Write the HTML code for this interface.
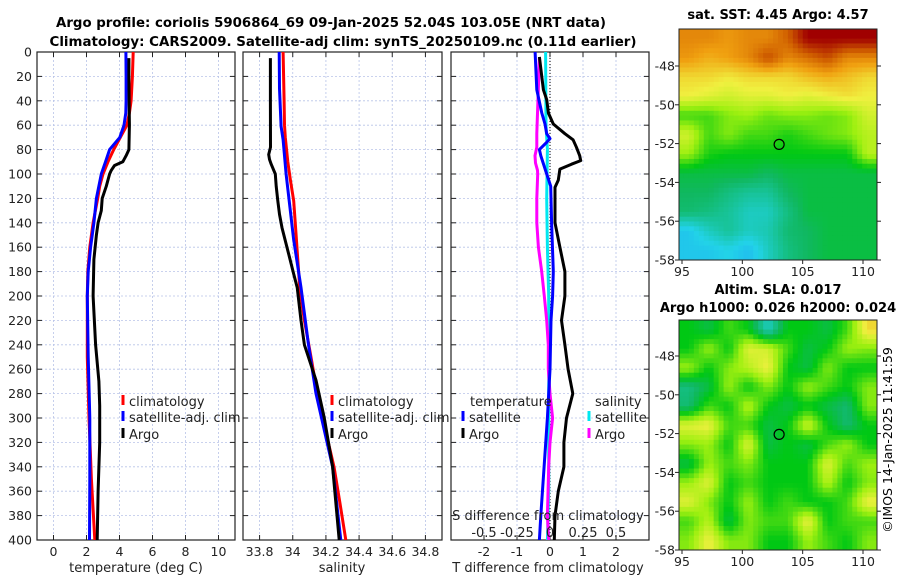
<!DOCTYPE html>
<html><head><meta charset="utf-8"><style>
html,body{margin:0;padding:0;background:#fff;}
svg{display:block;font-family:"DejaVu Sans","Liberation Sans",sans-serif;}
</style></head><body>
<svg id="fig" width="900" height="580" viewBox="0 0 900 580" xmlns="http://www.w3.org/2000/svg">
<defs>
<clipPath id="c1"><rect x="37" y="52" width="198" height="488"/></clipPath>
<clipPath id="c2"><rect x="243" y="52" width="199" height="488"/></clipPath>
<clipPath id="c3"><rect x="451" y="52" width="198" height="488"/></clipPath>
<clipPath id="cm1"><rect x="679" y="29" width="198" height="231"/></clipPath>
<clipPath id="cm2"><rect x="679" y="320" width="198" height="230"/></clipPath>
</defs>
<text x="331" y="27" text-anchor="middle" font-weight="bold" font-size="13" textLength="550" lengthAdjust="spacingAndGlyphs">Argo profile: coriolis 5906864_69 09-Jan-2025 52.04S 103.05E (NRT data)</text>
<text x="343" y="46" text-anchor="middle" font-weight="bold" font-size="13" textLength="587" lengthAdjust="spacingAndGlyphs">Climatology: CARS2009. Satellite-adj clim: synTS_20250109.nc (0.11d earlier)</text>
<g id="root"></g>
<text x="778" y="19" text-anchor="middle" font-weight="bold" font-size="13">sat. SST: 4.45 Argo: 4.57</text>
<text x="778" y="294" text-anchor="middle" font-weight="bold" font-size="13">Altim. SLA: 0.017</text>
<text x="778" y="312" text-anchor="middle" font-weight="bold" font-size="13">Argo h1000: 0.026 h2000: 0.024</text>
<text transform="translate(892,440) rotate(-90)" text-anchor="middle" font-size="12.5">©IMOS 14-Jan-2025 11:41:59</text>
</svg>
<script>
// ---- data ----
const depthTicks=[0,20,40,60,80,100,120,140,160,180,200,220,240,260,280,300,320,340,360,380,400];
const tempTicks=[0,2,4,6,8,10];
const salTicks=[33.8,34,34.2,34.4,34.6,34.8];
const salTickLabels=["33.8","34","34.2","34.4","34.6","34.8"];
const tdiffTicks=[-2,-1,0,1,2];
const sdiffTicks=[-0.5,-0.25,0,0.25,0.5];
const sdiffTickLabels=["-0.5","-0.25","0","0.25","0.5"];

const climTDepth=[0,20,40,50,60,70,80,90,100,110,120,140,160,180,200,250,300,350,400];
const climT=[4.83,4.78,4.7,4.6,4.45,4.05,3.65,3.3,3.0,2.8,2.68,2.4,2.2,2.08,2.05,2.05,2.15,2.3,2.5];
const satTDepth=[0,20,40,50,60,70,80,90,100,120,140,160,180,200,250,300,350,400];
const satT=[4.39,4.4,4.4,4.38,4.27,4.02,3.4,3.15,2.9,2.6,2.45,2.25,2.1,2.05,2.1,2.2,2.2,2.18];
const argoTDepth=[5,20,40,60,80,85,90,93,97,100,110,120,130,140,150,170,200,240,270,290,320,360,400];
const argoT=[4.57,4.57,4.58,4.6,4.57,4.4,4.2,3.7,3.5,3.4,3.2,2.95,2.9,2.7,2.6,2.45,2.4,2.55,2.75,2.8,2.8,2.7,2.65];

const climSDepth=[0,20,40,60,70,90,105,122,150,193,220,250,280,300,340,370,400];
const climS=[33.942,33.945,33.948,33.95,33.955,33.97,33.986,34.006,34.02,34.042,34.07,34.11,34.148,34.18,34.249,34.285,34.32];
const satSDepth=[0,30,61,72,100,154,193,240,280,340,400];
const satS=[33.918,33.92,33.93,33.942,33.96,34.006,34.05,34.095,34.14,34.24,34.29];
const argoSDepth=[5,40,78,84,88,92,100,110,122,133,144,166,182,193,220,240,269,300,340,370,400];
const argoS=[33.865,33.865,33.866,33.855,33.86,33.87,33.895,33.9,33.91,33.92,33.935,33.976,34.006,34.027,34.05,34.07,34.14,34.19,34.24,34.26,34.28];

const dTArgoDepth=[4,31,39,50,59,67,72,78,85,89,92,96,105,111,130,140,160,180,200,220,240,260,280,300,320,340,360,380,400];
const dTArgo=[-0.32,-0.2,-0.1,-0.05,0.1,0.45,0.7,0.8,0.9,0.93,0.65,0.3,0.25,0.15,0.15,0.15,0.3,0.45,0.45,0.35,0.45,0.55,0.69,0.5,0.42,0.42,0.25,0.15,0.13];
const dTSatDepth=[0,31,50,59,67,71,74,80,85,100,110,140,180,200,220,260,300,340,380,400];
const dTSat=[-0.45,-0.4,-0.25,-0.15,-0.1,0,-0.1,-0.32,-0.28,-0.1,0.02,0.05,0.1,0.08,0.03,0,-0.08,-0.18,-0.28,-0.32];
const dSArgoDepth=[5,36,67,78,85,91,97,100,120,140,160,180,200,220,240,260,280,300,320,340,380,400];
const dSArgo=[-0.08,-0.09,-0.1,-0.1,-0.114,-0.11,-0.095,-0.093,-0.1,-0.1,-0.088,-0.063,-0.043,-0.025,-0.013,-0.013,0,0.02,0,-0.01,-0.02,-0.01];
const dSSatDepth=[0,60,80,120,160,200,260,300,360,400];
const dSSat=[-0.033,-0.03,-0.02,-0.025,-0.02,-0.01,-0.01,-0.01,-0.01,-0.02];

const lonTicks=[95,100,105,110];
const latTicks=[-48,-50,-52,-54,-56,-58];
const argoLon=103.05, argoLat=-52.04;
const sstGrid=[
[.85,.85,.83,.85,.85,.9,1,1,1,1],
[.83,.8,.82,.85,.92,.85,.88,.92,.85,.85],
[.75,.75,.73,.75,.75,.75,.78,.8,.78,.75],
[.72,.7,.68,.7,.7,.72,.7,.72,.74,.72],
[.55,.55,.6,.62,.58,.6,.6,.58,.6,.68],
[.68,.55,.6,.55,.55,.52,.55,.58,.6,.65],
[.62,.52,.5,.5,.5,.5,.5,.5,.5,.65],
[.45,.45,.45,.45,.42,.45,.45,.45,.45,.45],
[.42,.42,.38,.35,.35,.42,.45,.45,.45,.45],
[.4,.38,.35,.3,.3,.38,.45,.45,.45,.45],
[.22,.3,.35,.3,.32,.4,.42,.45,.45,.45],
[.22,.22,.25,.2,.3,.38,.42,.45,.45,.45]];
const slaGrid=[
[.5,.45,.55,.5,.3,.5,.5,.45,.55,.75],
[.5,.62,.5,.7,.68,.55,.45,.5,.62,.6],
[.62,.5,.6,.65,.72,.5,.45,.6,.5,.5],
[.38,.45,.62,.5,.6,.5,.62,.55,.5,.6],
[.4,.55,.5,.65,.5,.45,.5,.45,.4,.6],
[.7,.72,.55,.55,.45,.5,.68,.5,.4,.5],
[.6,.62,.5,.7,.45,.5,.45,.55,.62,.5],
[.45,.62,.55,.6,.5,.5,.5,.7,.55,.62],
[.62,.7,.5,.55,.5,.5,.5,.65,.5,.6],
[.7,.6,.5,.62,.5,.55,.5,.5,.55,.72],
[.55,.65,.45,.6,.55,.55,.72,.5,.55,.55],
[.6,.72,.6,.6,.5,.5,.62,.55,.5,.6]];

// ---- helpers ----
const NS="http://www.w3.org/2000/svg";
const root=document.getElementById('root');
function mk(tag,attrs,parent){const e=document.createElementNS(NS,tag);for(const k in attrs)e.setAttribute(k,attrs[k]);(parent||root).appendChild(e);return e;}
const Y0=52,Y1=540;
const yD=d=>Y0+d*(Y1-Y0)/400;
function lin(d0,d1,r0,r1){return v=>r0+(v-d0)*(r1-r0)/(d1-d0);}
const panels=[
 {x0:37,x1:235,xs:lin(-1,11,37,235),clip:'c1',name:'temperature'},
 {x0:243,x1:442,xs:lin(33.7,34.9,243,442),clip:'c2',name:'salinity'},
 {x0:451,x1:649,xs:lin(-3,3,451,649),clip:'c3',name:'difference'}];
const sx3=lin(-0.75,0.75,451,649);

function frame(p,i,xt,xl){
  const g=mk('g',{});
  
  
  mk('rect',{x:p.x0,y:Y0,width:p.x1-p.x0,height:Y1-Y0,fill:'#fff'},g);
  xt.forEach(v=>{const x=p.xs(v);mk('line',{x1:x,x2:x,y1:Y0,y2:Y1,stroke:'#b8c4e8','stroke-width':0.8,'stroke-dasharray':'2,2'},g);});
  depthTicks.forEach(d=>{const y=yD(d);mk('line',{x1:p.x0,x2:p.x1,y1:y,y2:y,stroke:'#b8c4e8','stroke-width':0.8,'stroke-dasharray':'2,2'},g);
    mk('line',{x1:p.x0,x2:p.x0+5,y1:y,y2:y,stroke:'#222'},g);mk('line',{x1:p.x1-5,x2:p.x1,y1:y,y2:y,stroke:'#222'},g);
    if(i===0){const t=mk('text',{x:32,y:y+4.5,'text-anchor':'end','font-size':12.5,fill:'#222'},g);t.textContent=d;}});
  xt.forEach((v,k)=>{const x=p.xs(v);mk('line',{x1:x,x2:x,y1:Y0,y2:Y0+5,stroke:'#222'},g);mk('line',{x1:x,x2:x,y1:Y1-5,y2:Y1,stroke:'#222'},g);
    const t=mk('text',{x:x,y:556,'text-anchor':'middle','font-size':12.5,fill:'#222'},g);t.textContent=xl[k];});
  mk('rect',{x:p.x0,y:Y0,width:p.x1-p.x0,height:Y1-Y0,fill:'none',stroke:'#222','stroke-width':1.2},g);
  return g;
}
function series(p,xs,dep,vals,color,name,w){
  const pts=dep.map((d,k)=>xs(vals[k]).toFixed(1)+','+yD(d).toFixed(1)).join(' ');
  const e=mk('polyline',{points:pts,fill:'none',stroke:color,'stroke-width':w||3,'stroke-linejoin':'round','clip-path':'url(#'+p.clip+')'});
  
  
}
function legend(x,y,color,label,name){
  const g=mk('g',{});
  
  
  mk('line',{x1:x,x2:x,y1:y-11,y2:y-1,stroke:color,'stroke-width':3},g);
  const t=mk('text',{x:x+6,y:y,'font-size':13,fill:'#222'},g);t.textContent=label;
}
function txt(x,y,s,name,anchor,size){const t=mk('text',{x:x,y:y,'text-anchor':anchor||'middle','font-size':size||13,fill:'#222'});t.textContent=s;
  
  }

// panel 1
let P=panels[0];
frame(P,0,tempTicks,tempTicks.map(String));
series(P,P.xs,climTDepth,climT,'#ff0000','temperature-climatology-line');
series(P,P.xs,satTDepth,satT,'#0000ff','temperature-satellite-line');
series(P,P.xs,argoTDepth,argoT,'#000000','temperature-argo-line');
legend(123,406,'#ff0000','climatology','legend-climatology');
legend(123,422,'#0000ff','satellite-adj. clim','legend-satellite-adj');
legend(123,439,'#000000','Argo','legend-argo');
txt(136,572,'temperature (deg C)','temperature-x-axis-title');
// panel 2
P=panels[1];
frame(P,1,salTicks,salTickLabels);
series(P,P.xs,climSDepth,climS,'#ff0000','salinity-climatology-line');
series(P,P.xs,satSDepth,satS,'#0000ff','salinity-satellite-line');
series(P,P.xs,argoSDepth,argoS,'#000000','salinity-argo-line');
legend(332,406,'#ff0000','climatology','legend-climatology-2');
legend(332,422,'#0000ff','satellite-adj. clim','legend-satellite-adj-2');
legend(332,439,'#000000','Argo','legend-argo-2');
txt(342,572,'salinity','salinity-x-axis-title');
// panel 3
P=panels[2];
frame(P,2,tdiffTicks,tdiffTicks.map(String));
{const x=P.xs(0);const z=mk('line',{x1:x,x2:x,y1:Y0,y2:Y1,stroke:'#000','stroke-width':1,'stroke-dasharray':'1,2'});
 
 }
series(P,sx3,dSSatDepth,dSSat,'#00e8f0','salinity-diff-satellite-line');
series(P,sx3,dSArgoDepth,dSArgo,'#ff00ff','salinity-diff-argo-line');
series(P,P.xs,dTSatDepth,dTSat,'#0000ff','temperature-diff-satellite-line');
series(P,P.xs,dTArgoDepth,dTArgo,'#000000','temperature-diff-argo-line');
txt(470,406,'temperature','legend-temperature-header','start');
legend(463,422,'#0000ff','satellite','legend-temp-satellite');
legend(463,439,'#000000','Argo','legend-temp-argo');
txt(595,406,'salinity','legend-salinity-header','start');
legend(589,422,'#00e8f0','satellite','legend-sal-satellite');
legend(589,439,'#ff00ff','Argo','legend-sal-argo');
txt(548,520,'S difference from climatology','s-diff-axis-title');
sdiffTicks.forEach((v,k)=>txt(sx3(v),537,sdiffTickLabels[k],'s-diff-tick-label'));
txt(548,572,'T difference from climatology','t-diff-x-axis-title');

// maps
const cmapStops=[[0,[26,111,255]],[0.25,[34,211,232]],[0.42,[16,184,96]],[0.5,[0,200,20]],[0.62,[158,240,16]],[0.72,[240,240,64]],[0.82,[240,160,16]],[0.9,[208,96,0]],[1,[160,0,0]]];
function cmap(v){for(let i=1;i<cmapStops.length;i++){if(v<=cmapStops[i][0]){const a=cmapStops[i-1],b=cmapStops[i];const t=(v-a[0])/(b[0]-a[0]);
  return 'rgb('+a[1].map((c,j)=>Math.round(c+t*(b[1][j]-c))).join(',')+')';}}return 'rgb(160,0,0)';}
function sample(grid,fr,fc){
  const rows=grid.length,cols=grid[0].length;
  const r=Math.max(0,Math.min(rows-1,fr)),c=Math.max(0,Math.min(cols-1,fc));
  const r0=Math.floor(r),c0=Math.floor(c),r1=Math.min(rows-1,r0+1),c1=Math.min(cols-1,c0+1);
  const tr=r-r0,tc=c-c0;
  const a=grid[r0][c0]*(1-tc)+grid[r0][c1]*tc, b=grid[r1][c0]*(1-tc)+grid[r1][c1]*tc;
  return a*(1-tr)+b*tr;
}
function map(top,bottom,grid,clip,name){
  const x0=679,x1=877;
  const lx=lin(95,110,682,863);
  const ly=lin(-48,-58,bottom-194,bottom);
  const g=mk('g',{});
  
  
  const gc=mk('g',{'clip-path':'url(#'+clip+')'},g);
  const rows=grid.length,cols=grid[0].length;
  const SUB=4, NR=rows*SUB, NC=cols*SUB;
  const cw=(x1-x0)/NC,ch=(bottom-top)/NR;
  for(let r=0;r<NR;r++)for(let c=0;c<NC;c++){
    const v=sample(grid,(r+0.5)/SUB-0.5,(c+0.5)/SUB-0.5);
    const cell=mk('rect',{x:(x0+c*cw).toFixed(2),y:(top+r*ch).toFixed(2),width:(cw+0.6).toFixed(2),height:(ch+0.6).toFixed(2),fill:cmap(v)},gc);
    
    
  }
  mk('circle',{cx:lx(argoLon),cy:ly(argoLat),r:5,fill:'none',stroke:'#000','stroke-width':1.2},g);
  mk('rect',{x:x0,y:top,width:x1-x0,height:bottom-top,fill:'none',stroke:'#222','stroke-width':1},g);
  latTicks.forEach(v=>{const y=ly(v);mk('line',{x1:x0-4,x2:x0,y1:y,y2:y,stroke:'#222'},g);mk('line',{x1:x1,x2:x1+4,y1:y,y2:y,stroke:'#222'},g);
    const t=mk('text',{x:675,y:y+4.5,'text-anchor':'end','font-size':12.5,fill:'#222'},g);t.textContent=v;});
  lonTicks.forEach(v=>{const x=lx(v);mk('line',{x1:x,x2:x,y1:bottom,y2:bottom+4,stroke:'#222'},g);
    const t=mk('text',{x:x,y:bottom+16,'text-anchor':'middle','font-size':12.5,fill:'#222'},g);t.textContent=v;});
}
map(29,260,sstGrid,'cm1','sst-map');
map(320,550,slaGrid,'cm2','sla-map');
</script>
</body></html>
